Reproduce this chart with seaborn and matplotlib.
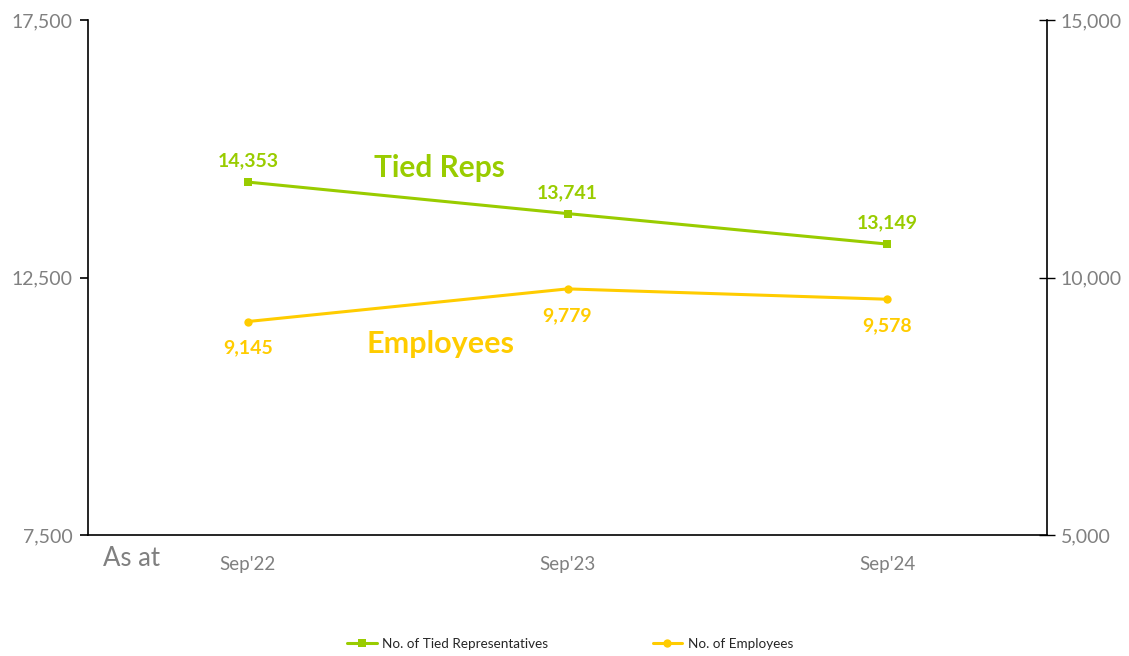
import pandas as pd
import numpy as np
import matplotlib.pyplot as plt
from matplotlib.ticker import FuncFormatter, FixedLocator
import seaborn as sns

# data
periods = ["Sep'22", "Sep'23", "Sep'24"]
tied_reps = [14353, 13741, 13149]
employees = [9145, 9779, 9578]

green = '#99CC00'
yellow = '#FFCC00'
grey = '#808080'

sns.set_style('white')
plt.rcParams['font.family'] = ['Lato', 'DejaVu Sans']

df = pd.DataFrame({'period': periods, 'pos': np.arange(len(periods)),
                   'tied': tied_reps, 'emp': employees})

fig = plt.figure(figsize=(11.29, 6.56), dpi=100)
ax = fig.add_axes([88/1129, 1-535/656, 959/1129, 515/656])
ax2 = ax.twinx()

sns.lineplot(x='pos', y='tied', data=df, ax=ax, color=green, marker='s',
             markersize=6, markeredgewidth=0, linewidth=2.2, sort=False,
             label='No. of Tied Representatives', legend=False)
sns.lineplot(x='pos', y='emp', data=df, ax=ax2, color=yellow, marker='o',
             markersize=6, markeredgewidth=0, linewidth=2.2, sort=False,
             label='No. of Employees', legend=False)

ax.set_xlim(-0.5, len(periods) - 0.5)
ax.set_ylim(7500, 17500)
ax2.set_ylim(5000, 15000)
ax.set_yticks([7500, 12500, 17500])
ax2.set_yticks([5000, 10000, 15000])
fmt = FuncFormatter(lambda v, p: '{:,.0f}'.format(v))
ax.yaxis.set_major_formatter(fmt)
ax2.yaxis.set_major_formatter(fmt)

ax.set_xticks(df['pos'])
ax.set_xticklabels(periods)
ax.xaxis.set_minor_locator(FixedLocator(np.arange(-0.5, len(periods), 1)))
ax.tick_params(axis='x', which='major', length=0, pad=15, labelsize=13.5, labelcolor=grey)
ax.tick_params(axis='x', which='minor', length=6, width=1.2, direction='out', color='black')
ax.tick_params(axis='y', length=6, width=1.2, direction='out', color='black',
               labelsize=14, labelcolor=grey, pad=5, left=True)
ax2.tick_params(axis='y', length=12, width=1.0, direction='inout', color='black',
                labelsize=14, labelcolor=grey, pad=4, right=True)
ax.set_xlabel('')
ax.set_ylabel('')
ax2.set_ylabel('')

for a in (ax, ax2):
    a.spines['top'].set_visible(False)
    for s in ('left', 'bottom', 'right'):
        a.spines[s].set_color('black')
        a.spines[s].set_linewidth(1.2)
ax.spines['right'].set_visible(False)
ax2.spines['left'].set_visible(False)
ax2.spines['bottom'].set_visible(False)

# data labels
for x, v in zip(df['pos'], tied_reps):
    ax.annotate('{:,}'.format(v), (x, v), xytext=(0, 15), textcoords='offset points',
                ha='center', va='center', color=green, fontsize=14, fontweight='bold')
for x, v in zip(df['pos'], employees):
    ax2.annotate('{:,}'.format(v), (x, v), xytext=(0, -19), textcoords='offset points',
                 ha='center', va='center', color=yellow, fontsize=14, fontweight='bold')

ax.text(0.366, 0.713, 'Tied Reps', transform=ax.transAxes, ha='center', va='center',
        color=green, fontsize=21.5, fontweight='bold')
ax.text(0.368, 0.371, 'Employees', transform=ax.transAxes, ha='center', va='center',
        color=yellow, fontsize=22, fontweight='bold')

fig.text(103/1129, 1-558/656, 'As at', ha='left', va='center', color=grey, fontsize=18.5)

h1, l1 = ax.get_legend_handles_labels()
h2, l2 = ax2.get_legend_handles_labels()
fig.legend(h1 + h2, l1 + l2, loc='center', bbox_to_anchor=(570/1129, 1-644/656),
           ncol=2, frameon=False, fontsize=9.7, handlelength=2.2, columnspacing=7.75,
           handletextpad=0.4)

fig.savefig('out.png', dpi=100)
